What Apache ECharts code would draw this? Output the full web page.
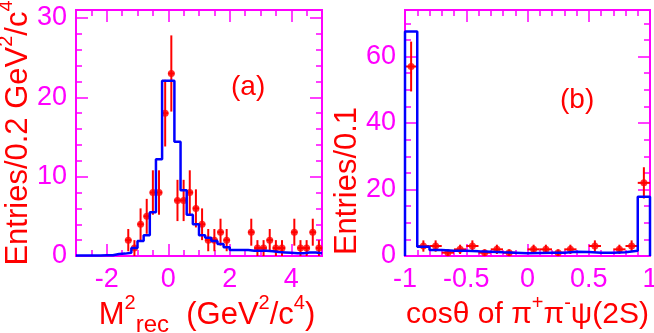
<!DOCTYPE html>
<html>
<head>
<meta charset="utf-8">
<script src="https://cdn.jsdelivr.net/npm/echarts@6/dist/echarts.min.js"></script>
<style>
  html, body { margin: 0; padding: 0; background: #fff; }
  #chart-wrapper { width: 654px; height: 333px; }
</style>
</head>
<body>
<div id="chart-wrapper"></div>
<script>
// panel (a): M^2_rec, 0.2 GeV^2/c^4 bins from -3 to 5
const mrecBinStart = -3;
const mrecBinWidth = 0.2;
const mrecMc = [
  0.05, 0.05, 0.05, 0.05, 0.1, 0.1, 0.25, 0.3, 0.4, 1.0,
  1.9, 2.6, 5.5, 12.2, 22.1, 22.1, 14.4, 8.3, 5.2, 4.0,
  2.6, 2.3, 1.9, 1.5, 1.1, 0.75, 0.75, 0.75, 0.65, 0.65,
  0.65, 0.6, 0.5, 0.45, 0.4, 0.35, 0.35, 0.45, 0.45, 0.35,
];
const mrecX = [-1.3, -1.1, -0.9, -0.7, -0.5, -0.3, -0.1, 0.1, 0.3, 0.5, 0.7, 0.9, 1.1, 1.3,
  1.5, 1.7, 1.9, 2.7, 2.9, 3.1, 3.3, 3.5, 3.7, 4.1, 4.3, 4.5, 4.7, 4.9];
const mrecY = [2, 1, 4, 5, 8, 8, 18, 23, 7, 7, 8, 6, 4, 2,
  2, 3, 2, 3, 1, 1, 2, 1, 1, 3, 1, 1, 3, 1];
const mrecErr = [1.4, 1.0, 2.0, 2.2, 2.8, 2.8, 4.2, 4.8, 2.6, 2.6, 2.8, 2.4, 2.0, 1.4,
  1.4, 1.7, 1.4, 1.7, 1.0, 1.0, 1.4, 1.0, 1.0, 1.7, 1.0, 1.0, 1.7, 1.0];
const mrecXTicks = [-2, 0, 2, 4];
const mrecYTicks = [0, 10, 20, 30];

// panel (b): cos(theta), 0.1 bins from -1 to 1
const cosBinStart = -1;
const cosBinWidth = 0.1;
const cosMc = [67.5, 2.8, 1.8, 1.6, 1.6, 1.4, 1.3, 1.1, 1.0, 0.8,
  0.9, 1.0, 1.0, 1.3, 1.2, 1.0, 1.0, 1.1, 1.6, 17.8];
const cosX = [-0.95, -0.85, -0.75, -0.65, -0.55, -0.45, -0.35, -0.25, -0.15,
  0.05, 0.15, 0.25, 0.35, 0.55, 0.75, 0.85, 0.95];
const cosY = [57, 3, 3, 1, 2, 3, 1, 2, 1, 2, 2, 1, 2, 3, 2, 3, 22];
const cosErr = [7.5, 1.7, 1.7, 1.0, 1.4, 1.7, 1.0, 1.4, 1.0, 1.4, 1.4, 1.0, 1.4, 1.7, 1.4, 1.7, 4.7];
const cosXTicks = [-1, -0.5, 0, 0.5, 1];
const cosYTicks = [0, 20, 40, 60];

const MAGENTA = "#ff00ff";
const RED = "#ff0000";
const BLUE = "#0000ff";
const FONT = "'Liberation Sans', Arial, Helvetica, sans-serif";

function titleRich(size) {
  return {
    n: { fontSize: size, color: RED, fontFamily: FONT, lineHeight: 44, verticalAlign: "middle" },
    sup: { fontSize: 20, color: RED, fontFamily: FONT, lineHeight: 22, verticalAlign: "top" },
    sub: { fontSize: 24, color: RED, fontFamily: FONT, lineHeight: 30, verticalAlign: "bottom" },
  };
}

function baseAxis(gridIndex, position, min, max) {
  return {
    type: "value",
    gridIndex: gridIndex,
    position: position,
    min: min,
    max: max,
    nameMoveOverlap: false,
    axisLine: { show: true, onZero: false, lineStyle: { color: MAGENTA, width: 2 } },
    splitLine: { show: false },
  };
}

// long ticks (and labels) at the given values
function majorAxis(dim, gridIndex, position, min, max, ticks, labels, extra) {
  return Object.assign(baseAxis(gridIndex, position, min, max), {
    axisTick: {
      show: true, inside: true, length: 12, customValues: ticks,
      lineStyle: { color: MAGENTA, width: 1.5 },
    },
    axisLabel: {
      show: labels,
      customValues: ticks,
      color: MAGENTA,
      fontSize: 27,
      fontFamily: FONT,
      margin: dim === "x" ? 10 : 9,
      hideOverlap: false,
    },
  }, extra || {});
}

// short ticks every `step`
function minorAxis(gridIndex, position, min, max, step) {
  return Object.assign(baseAxis(gridIndex, position, min, max), {
    interval: step,
    axisTick: { show: true, inside: true, length: 6, lineStyle: { color: MAGENTA, width: 1.5 } },
    axisLabel: { show: false },
  });
}

function stepData(start, width, heights, closeEnds) {
  const pts = [];
  if (closeEnds) pts.push([start, 0]);
  heights.forEach((h, i) => pts.push([+(start + i * width).toFixed(4), h]));
  const end = +(start + heights.length * width).toFixed(4);
  pts.push([end, heights[heights.length - 1]]);
  if (closeEnds) pts.push([end, 0]);
  return pts;
}

function errorBars(xs, ys, errs, halfWidth, axisIndex) {
  return {
    type: "custom",
    xAxisIndex: axisIndex,
    yAxisIndex: axisIndex,
    z: 2,
    data: xs.map((x, i) => [x, ys[i], errs[i]]),
    renderItem: (params, api) => {
      const x = api.value(0);
      const y = api.value(1);
      const e = api.value(2);
      const top = api.coord([x, y + e]);
      const bot = api.coord([x, Math.max(y - e, 0)]);
      const l = api.coord([x - halfWidth, y]);
      const r = api.coord([x + halfWidth, y]);
      const style = { stroke: RED, lineWidth: 2 };
      return {
        type: "group",
        children: [
          { type: "line", shape: { x1: top[0], y1: top[1], x2: bot[0], y2: bot[1] }, style: style },
          { type: "line", shape: { x1: l[0], y1: l[1], x2: r[0], y2: r[1] }, style: style },
        ],
      };
    },
  };
}

const leftRect = { left: 76, top: 10, width: 246, height: 246 };
const rightRect = { left: 405, top: 10, width: 245, height: 246 };

function frameGrid(rect) {
  return Object.assign({ containLabel: false, outerBoundsMode: "none" }, rect);
}

const option = {
  animation: false,
  backgroundColor: "#ffffff",
  grid: [frameGrid(leftRect), frameGrid(leftRect), frameGrid(rightRect), frameGrid(rightRect)],
  xAxis: [
    majorAxis("x", 0, "bottom", -3, 5, mrecXTicks, true, {
      name: "{n|M}{sup|2}{sub|rec}{n|  (GeV}{sup|2}{n|/c}{sup|4}{n|)}",
      nameLocation: "middle",
      nameGap: 37,
      nameTextStyle: { rich: titleRich(31), padding: [0, 0, 0, 16] },
    }),
    majorAxis("x", 0, "top", -3, 5, mrecXTicks, false),
    minorAxis(1, "bottom", -3, 5, 0.5),
    minorAxis(1, "top", -3, 5, 0.5),
    majorAxis("x", 2, "bottom", -1, 1, cosXTicks, true, {
      name: "{n|cos\u03b8 of \u03c0}{sup|+}{n|\u03c0}{sup|-}{n|\u03c8(2S)}",
      nameLocation: "middle",
      nameGap: 37,
      nameTextStyle: { rich: titleRich(30) },
    }),
    majorAxis("x", 2, "top", -1, 1, cosXTicks, false),
    minorAxis(3, "bottom", -1, 1, 0.1),
    minorAxis(3, "top", -1, 1, 0.1),
  ],
  yAxis: [
    majorAxis("y", 0, "left", 0, 31, mrecYTicks, true, {
      name: "{n|Entries/0.2 GeV}{sup|2}{n|/c}{sup|4}",
      nameLocation: "middle",
      nameRotate: 90,
      nameGap: 36,
      nameTextStyle: { rich: titleRich(31) },
    }),
    majorAxis("y", 0, "right", 0, 31, mrecYTicks, false),
    minorAxis(1, "left", 0, 31, 2),
    minorAxis(1, "right", 0, 31, 2),
    majorAxis("y", 2, "left", 0, 74, cosYTicks, true, {
      name: "{n|Entries/0.1}",
      nameLocation: "middle",
      nameRotate: 90,
      nameGap: 36,
      nameTextStyle: { rich: titleRich(31), padding: [0, 96, 0, 0] },
    }),
    majorAxis("y", 2, "right", 0, 74, cosYTicks, false),
    minorAxis(3, "left", 0, 74, 5),
    minorAxis(3, "right", 0, 74, 5),
  ],
  graphic: [
    { type: "text", left: 231, top: 73, style: { text: "(a)", fill: RED, fontSize: 28, fontFamily: FONT } },
    { type: "text", left: 560, top: 86, style: { text: "(b)", fill: RED, fontSize: 28, fontFamily: FONT } },
  ],
  series: [
    errorBars(mrecX, mrecY, mrecErr, mrecBinWidth / 2, 0),
    {
      type: "scatter",
      xAxisIndex: 0,
      yAxisIndex: 0,
      z: 3,
      symbolSize: 7,
      itemStyle: { color: RED },
      data: mrecX.map((x, i) => [x, mrecY[i]]),
    },
    {
      type: "line",
      xAxisIndex: 0,
      yAxisIndex: 0,
      z: 4,
      step: "end",
      showSymbol: false,
      lineStyle: { color: BLUE, width: 2.5 },
      data: stepData(mrecBinStart, mrecBinWidth, mrecMc, false),
    },
    errorBars(cosX, cosY, cosErr, cosBinWidth / 2, 4),
    {
      type: "scatter",
      xAxisIndex: 4,
      yAxisIndex: 4,
      z: 3,
      symbolSize: 7,
      itemStyle: { color: RED },
      data: cosX.map((x, i) => [x, cosY[i]]),
    },
    {
      type: "line",
      xAxisIndex: 4,
      yAxisIndex: 4,
      z: 4,
      step: "end",
      showSymbol: false,
      lineStyle: { color: BLUE, width: 2.5 },
      data: stepData(cosBinStart, cosBinWidth, cosMc, true),
    },
  ],
};

const chart = echarts.init(document.getElementById("chart-wrapper"), null, { renderer: "canvas" });
chart.setOption(option);
</script>
</body>
</html>
